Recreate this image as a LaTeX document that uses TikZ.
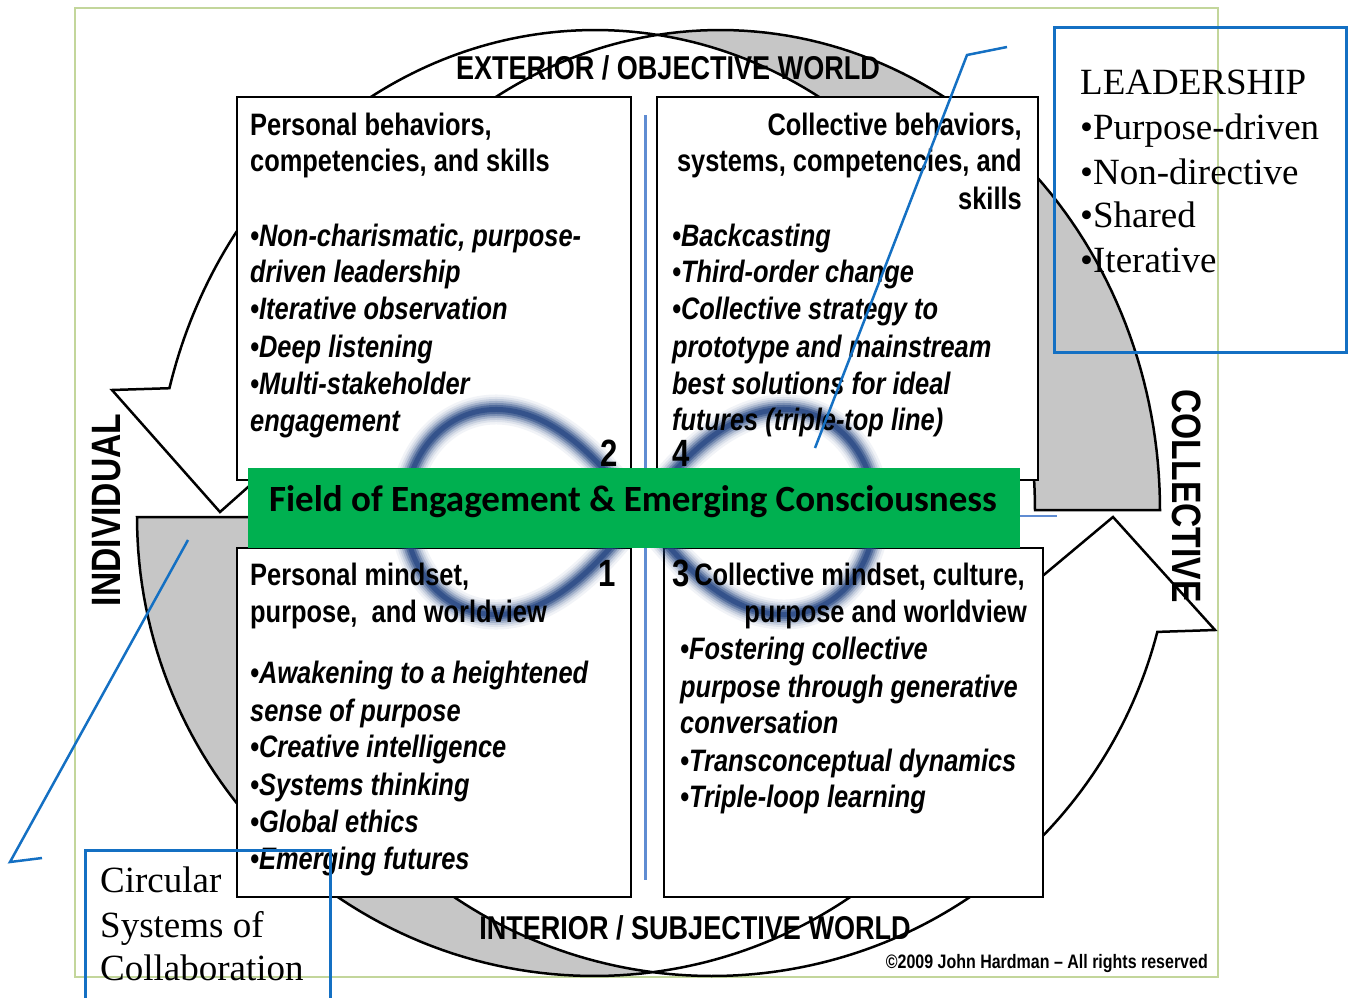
\documentclass[tikz,border=0pt]{standalone}
\usepackage{fontspec}
\newfontfamily\narrow[FakeStretch=0.82]{Liberation Sans}
\newfontfamily\calib{Carlito}
\newfontfamily\tnr{Liberation Serif}
\definecolor{arrowgray}{RGB}{198,198,198}
\definecolor{fieldgreen}{RGB}{0,176,80}
\definecolor{callblue}{RGB}{20,112,195}
\definecolor{axisblue}{RGB}{95,140,210}
\definecolor{framegreen}{RGB}{195,214,155}
\definecolor{ringblue}{RGB}{32,66,128}
\begin{document}
\begin{tikzpicture}[x=1pt,y=-1pt,
  quad/.style={draw=black,fill=white,line width=2.5},
  ribbon/.style={draw=black,line width=2.5,line join=miter},
  hdr/.style={inner sep=0,font=\narrow\bfseries\fontsize{31}{37}\selectfont},
  itm/.style={inner sep=0,anchor=base west,font=\narrow\bfseries\itshape\fontsize{31}{37}\selectfont},
  num/.style={inner sep=0,anchor=base,font=\narrow\bfseries\fontsize{38}{38}\selectfont},
  world/.style={inner sep=0,font=\narrow\bfseries\fontsize{33}{33}\selectfont},
  side/.style={inner sep=0,font=\narrow\bfseries\fontsize{41}{41}\selectfont},
  serif/.style={inner sep=0,anchor=base west,font=\tnr\fontsize{37}{45}\selectfont},
  callout/.style={callblue,line width=2.5},
]
\useasboundingbox (0,0) rectangle (1349,998);
\fill[white] (0,0) rectangle (1349,998);
% frame
\draw[framegreen,line width=2] (75,8) rectangle (1218,977);
% top ribbon arrow: back (gray)
\filldraw[ribbon,fill=arrowgray]
  plot[domain=0:-98.2,samples=70] ({720+440*cos(\x)},{510+480*sin(\x)})
  -- plot[domain=-81.8:0,samples=70] ({595+440*cos(\x)},{510+480*sin(\x)}) -- cycle;
% top ribbon arrow: front
\filldraw[ribbon,fill=white]
  plot[domain=-81.8:-165.3,samples=80] ({595+440*cos(\x)},{510+480*sin(\x)})
  -- (112,390) -- (220,512) -- (357,390)
  -- plot[domain=-165.3:-98.2,samples=70] ({720+440*cos(\x)},{510+480*sin(\x)}) -- cycle;
% bottom ribbon arrow: back (gray)
\filldraw[ribbon,fill=arrowgray]
  plot[domain=180:82.6,samples=70] ({594+457*cos(\x)},{517+459*sin(\x)})
  -- plot[domain=97.4:180,samples=70] ({712+460*cos(\x)},{517+459*sin(\x)}) -- cycle;
% bottom ribbon arrow: front
\filldraw[ribbon,fill=white]
  plot[domain=97.4:14.5,samples=80] ({712+460*cos(\x)},{517+459*sin(\x)})
  -- (1215,630) -- (1113,517) -- (978,630)
  -- plot[domain=14.5:82.6,samples=70] ({594+457*cos(\x)},{517+459*sin(\x)}) -- cycle;
% quadrant boxes
\draw[quad] (237,97) rectangle (631,480);
\draw[quad] (657,97) rectangle (1038,480);
\draw[quad] (237,548) rectangle (631,897);
\draw[quad] (664,548) rectangle (1043,897);
% axes
\draw[axisblue,line width=3] (645,115) -- (645,880);
\draw[axisblue,line width=2.5] (1020,516) -- (1057,516);
% infinity ring (soft, blurred look)
\foreach \w/\o in {30/0.06,25/0.09,21/0.13,17/0.2,13/0.3,9/0.45,5/0.6}
  \draw[ringblue,line width=\w,opacity=\o] plot[domain=0:360,samples=220,smooth]
   ({640+235*cos(\x)/(1+sin(\x)*sin(\x))},{512+290*sin(\x)*cos(\x)/(1+sin(\x)*sin(\x))});
% field bar
\fill[fieldgreen] (248,468) rectangle (1020,548);
\node[inner sep=0,anchor=base,font=\calib\bfseries\fontsize{37}{37}\selectfont] (field) at (633,511) {Field of Engagement \& Emerging Consciousness};
% top-left quadrant
\node[hdr,anchor=base west] (tl1) at (250,135) {Personal behaviors,};
\node[hdr,anchor=base west] (tl2) at (250,171) {competencies, and skills};
\node[itm] (tl3) at (250,246) {•Non-charismatic, purpose-};
\node[itm] (tl4) at (250,282) {driven leadership};
\node[itm] (tl5) at (250,319) {•Iterative observation};
\node[itm] (tl6) at (250,357) {•Deep listening};
\node[itm] (tl7) at (250,394) {•Multi-stakeholder};
\node[itm] (tl8) at (250,431) {engagement};
% top-right quadrant
\node[hdr,anchor=base east] (tr1) at (1022,135) {Collective behaviors,};
\node[hdr,anchor=base east] (tr2) at (1022,171) {systems, competencies, and};
\node[hdr,anchor=base east] (tr3) at (1022,209) {skills};
\node[itm] (tr4) at (672,246) {•Backcasting};
\node[itm] (tr5) at (672,282) {•Third-order change};
\node[itm] (tr6) at (672,319) {•Collective strategy to};
\node[itm] (tr7) at (672,357) {prototype and mainstream};
\node[itm] (tr8) at (672,394) {best solutions for ideal};
\node[itm] (tr9) at (672,430) {futures (triple-top line)};
% bottom-left quadrant
\node[hdr,anchor=base west] (bl1) at (250,585) {Personal mindset,};
\node[hdr,anchor=base west] (bl2) at (250,622) {purpose,\ \ and worldview};
\node[itm] (bl3) at (250,683) {•Awakening to a heightened};
\node[itm] (bl4) at (250,721) {sense of purpose};
\node[itm] (bl5) at (250,757) {•Creative intelligence};
\node[itm] (bl6) at (250,795) {•Systems thinking};
\node[itm] (bl7) at (250,832) {•Global ethics};
\node[itm] (bl8) at (250,869) {•Emerging futures};
% bottom-right quadrant
\node[hdr,anchor=base east] (br1) at (1025,585) {Collective mindset, culture,};
\node[hdr,anchor=base east] (br2) at (1027,622) {purpose and worldview};
\node[itm] (br3) at (680,659) {•Fostering collective};
\node[itm] (br4) at (680,697) {purpose through generative};
\node[itm] (br5) at (680,733) {conversation};
\node[itm] (br6) at (680,771) {•Transconceptual dynamics};
\node[itm] (br7) at (680,807) {•Triple-loop learning};
% numbers
\node[num] (n2) at (609,466) {2};
\node[num] (n4) at (681,466) {4};
\node[num] (n1) at (607,586) {1};
\node[num] (n3) at (681,586) {3};
% world labels
\node[world] (ext) at (668,68) {EXTERIOR / OBJECTIVE WORLD};
\node[world] (int) at (695,928) {INTERIOR / SUBJECTIVE WORLD};
\node[side,rotate=90] (indiv) at (107,510) {INDIVIDUAL};
\node[side,rotate=-90] (coll) at (1187,496) {COLLECTIVE};
% copyright
\node[inner sep=0,anchor=base east,font=\narrow\bfseries\fontsize{19.5}{19.5}\selectfont] (copy) at (1208,968) {©2009 John Hardman – All rights reserved};
% callout boxes
\draw[callblue,line width=3] (1054,28) rectangle (1346,352);
\node[serif] (ld1) at (1080,94) {LEADERSHIP};
\node[serif] (ld2) at (1080,139) {•Purpose-driven};
\node[serif] (ld3) at (1080,184) {•Non-directive};
\node[serif] (ld4) at (1080,227) {•Shared};
\node[serif] (ld5) at (1080,272) {•Iterative};
\draw[callblue,line width=3] (85,850) rectangle (330,1010);
\node[serif] (cs1) at (100,892) {Circular};
\node[serif] (cs2) at (100,937) {Systems of};
\node[serif] (cs3) at (100,980) {Collaboration};
% callout lines
\coordinate (c1a) at (1007,47);
\coordinate (c1b) at (967,55);
\coordinate (c1c) at (815,448);
\draw[callout] (c1a) -- (c1b) -- (c1c);
\coordinate (c2a) at (188,540);
\coordinate (c2b) at (10,862);
\coordinate (c2c) at (42,858);
\draw[callout] (c2a) -- (c2b) -- (c2c);
\end{tikzpicture}
\end{document}
